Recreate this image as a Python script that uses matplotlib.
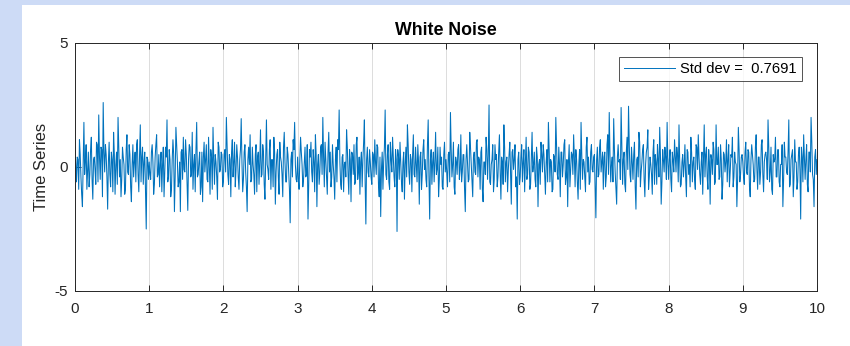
import numpy as np
import matplotlib
matplotlib.use("Agg")
import matplotlib.pyplot as plt
from matplotlib.patches import Rectangle

plt.rcParams['font.family'] = ['Liberation Sans', 'DejaVu Sans']
plt.rcParams['axes.unicode_minus'] = False

# samples, one list per second: segN at t = N + 0.02*i, segNb half a step later
seg0 = [0.8, -0.6, 0.3, 1.1, -0.4, -1.6, 1.8, 0.2, -0.9, 0.6, -0.3, 1.2, -1.3, 0.4, -0.7, 0.9, 2.1,
        -0.5, 0.7, 2.6, -0.2, 0.5, -1.7, 1.0, -0.8, 0.3, 1.4, -1.1, 0.6, 2.0, -0.4, -1.2, 0.8, 0.1,
        -0.9, 1.3, -0.3, 0.5, -1.4, 0.9, 0.2, -0.6, 1.1, -1.0, 1.7, 0.4, -0.7, 0.6, -2.5, 0.3]
seg0b = [0.1, 0.4, -0.9, 0.5, -1.1, 0.2, -0.3, 0.9, -0.2, -0.8, 0.7, -0.5, 0.3, -0.1, 1.0, -0.6, 0.4,
         0.8, -1.2, 0.6, 0.9, -0.4, 0.2, -0.3, 0.6, -1.0, 0.5, 0.1, -0.7, 0.8, 0.3, -0.5, 0.4, -1.1,
         0.7, -0.2, 0.9, -0.8, 0.1, -0.4, 0.6, 0.9, -0.3, 0.5, -0.6, 0.8, 0.2, -1.0, 0.4, -0.5]
seg1 = [0.2, -0.5, 0.9, -1.1, 0.4, 1.3, -0.3, -0.8, 0.6, 0.1, -1.2, 0.8, 1.9, -0.4, 0.3, -0.9, 1.1,
        -1.8, 1.6, 0.2, -0.6, -1.8, 0.7, 1.2, -0.2, 0.5, -1.75, 0.9, -0.4, 1.4, 0.1, -1.0, 1.8, -0.3,
        0.6, -0.8, -1.4, 1.0, 0.3, -0.5, 1.2, -1.1, 0.4, 1.6, -0.7, 0.2, -1.3, 0.8, -0.1, 0.5]
seg1b = [-0.3, 0.6, 0.2, -0.7, 0.9, -0.4, 0.5, 0.1, -1.0, 0.8, -0.2, 0.4, -0.6, 0.7, -1.2, 0.3, 0.5,
         -0.4, 0.9, -0.8, 0.2, 0.6, -0.5, -0.1, 1.1, -0.7, 0.3, 0.8, -0.3, -0.9, 0.5, 0.7, -0.4, 0.2,
         -1.1, 0.6, 0.4, -0.2, 0.9, -0.6, 0.1, 0.7, -0.9, 0.3, 0.5, -0.4, 1.0, -0.2, 0.6, -0.8]
seg2 = [-0.6, 0.7, 2.0, -0.3, 0.5, -1.2, 1.1, 0.2, -0.8, 0.9, -0.4, 0.3, 1.95, -1.0, 0.6, -0.2, -1.8,
        0.8, 1.3, -0.5, 0.1, -1.1, 0.9, 0.4, -0.7, 1.5, -0.3, 0.6, -1.3, 1.9, -0.1, 0.7, -0.9, 0.3,
        1.2, -1.5, 0.5, -0.4, 1.0, 0.2, -1.2, 1.4, -0.6, 0.8, -0.2, -2.25, 0.6, 1.1, 1.8, -0.5]
seg2b = [0.5, -0.2, 0.8, -0.7, 0.3, 0.6, -0.4, 1.0, -0.1, 0.4, -0.9, 0.7, 0.2, -0.5, 0.9, -0.8, 0.3,
         0.1, -0.6, 0.8, -0.3, 0.5, -1.0, 0.6, 0.2, -0.4, 0.9, -0.7, 0.4, 0.1, -0.5, 1.1, 0.3, -0.8,
         0.6, -0.2, 0.7, -1.1, 0.4, -0.3, 0.8, 0.2, -0.6, 0.5, -0.9, 0.3, -0.4, 0.7, 0.1, -0.6]
seg3 = [0.4, -0.9, 1.2, 0.1, -0.5, 0.8, -0.3, -2.1, 0.7, 1.0, -0.6, 0.2, 1.3, -1.6, 0.5, -0.2, 0.9,
        2.0, -0.8, 0.3, -1.1, 1.4, 0.6, -0.4, 0.1, -1.3, 0.8, 1.1, 2.3, -0.7, 0.4, -1.0, 0.2, 1.5,
        -0.3, 0.7, -1.4, 0.5, 0.9, -0.6, 1.2, -0.2, -1.1, 0.6, 0.3, 1.9, -2.3, 0.8, -0.4, 0.2]
seg3b = [-0.5, 0.3, 0.6, -0.8, 0.2, -0.4, 0.9, -0.6, 0.4, -0.2, 0.7, -1.0, 0.5, 0.1, -0.7, 0.8, -0.3,
         0.4, 1.0, -0.5, 0.6, -0.2, -0.8, 0.9, -0.4, 0.3, -0.6, 0.7, 0.2, -0.9, 0.5, 0.1, -0.4, 0.8,
         -1.1, 0.3, 0.6, -0.3, -0.7, 0.9, -0.5, 0.4, 0.2, -0.8, 1.0, -0.6, 0.3, -0.2, 0.7, -0.4]
seg4 = [-0.7, 0.5, 1.1, -0.3, 0.8, -1.2, -2.0, 0.6, 0.2, 2.3, -0.5, 0.9, -0.9, 0.3, 1.2, -0.4, 0.7,
        -2.6, 0.4, 1.0, -0.6, 0.2, -1.3, 0.8, 1.7, -0.2, 0.5, -1.0, 1.3, -0.4, 0.1, 0.9, -1.5, 0.6,
        -0.3, 1.1, 0.3, -0.8, 1.9, -2.1, 0.7, 0.2, -0.6, 1.4, -0.1, -1.2, 0.8, 0.4, -0.9, 1.0]
seg4b = [0.6, -0.4, 0.2, 0.9, -0.7, 0.4, -0.1, -0.9, 0.8, -0.3, 0.5, -0.6, 1.0, -0.2, 0.4, -0.8, 0.3,
         0.7, -0.5, 0.2, -1.0, 0.6, 0.1, -0.4, 0.9, -0.7, 0.3, 0.5, -0.3, 0.8, -0.6, 0.2, 0.4, -0.9,
         0.7, -0.1, -0.5, 0.9, -0.4, 0.3, -0.7, 0.6, 0.2, -0.3, 0.8, -0.5, 0.1, -0.8, 0.5, -0.2]
seg5 = [0.3, -0.8, 0.6, 2.2, -0.4, 1.0, -1.1, 0.2, 0.7, -0.5, 1.3, -0.2, 0.5, -1.8, 0.9, -0.6, 1.4,
        0.1, -1.2, 0.6, -0.3, 1.1, 0.4, -0.9, 0.8, -1.4, 0.2, 1.2, -0.5, 2.5, -0.7, 0.3, -1.0, 0.9,
        0.5, -0.4, 1.3, -1.3, 0.2, 1.7, -0.6, 0.4, -0.1, 1.0, -1.5, 0.7, 0.3, -0.8, -2.1, 0.6]
seg5b = [-0.2, 0.5, -0.6, 0.7, 0.1, -0.8, 0.4, -0.3, 0.9, -0.1, -0.6, 0.5, -0.9, 0.3, 0.2, -0.5, 0.8,
         -0.7, 0.4, -0.2, 1.0, -0.4, 0.3, 0.6, -0.9, 0.2, -0.3, 0.7, 0.5, -0.6, 0.1, 0.9, -0.5, 0.3,
         -0.8, 0.6, -0.2, 0.4, -0.7, 0.8, 0.2, -1.0, 0.5, -0.3, 0.6, -0.1, 0.9, -0.4, 0.3, -0.7]
seg6 = [-0.4, 0.9, 0.2, -1.0, 1.2, -0.3, 0.6, -0.7, 1.4, 0.1, -0.5, 0.8, -1.6, 0.3, 1.0, -0.2, 0.5,
        -1.1, 0.7, 1.8, -0.6, 0.2, -0.9, 0.4, 2.0, -0.3, 0.8, -1.2, 0.6, 0.1, 1.1, -0.4, -1.6, 0.9,
        -0.1, 0.5, 1.3, -0.8, 0.3, -1.3, 0.7, 1.8, -0.5, 0.2, -1.0, 1.2, 0.4, -0.6, 0.9, -0.2]
seg6b = [0.4, -0.6, 0.7, 0.2, -0.5, 0.8, -0.9, 0.3, -0.2, 0.6, -0.8, 0.4, 0.1, -0.7, 0.5, 0.9, -0.3,
         0.2, -0.6, 0.7, 0.3, -1.0, 0.5, -0.2, 0.8, -0.5, 0.1, 0.6, -0.4, 0.9, -0.7, 0.3, 0.2, -0.8,
         0.6, -0.3, 0.4, 0.7, -0.6, 0.1, -0.9, 0.5, 0.3, -0.4, 0.8, -0.2, -0.7, 0.6, -0.1, 0.4]
seg7 = [0.5, -2.05, 0.8, -0.3, 1.1, 0.2, -0.9, 0.6, -0.4, 1.3, 2.2, -0.6, 0.4, 1.95, -0.2, -1.5, 0.9,
        0.3, 2.4, -0.7, 0.6, -1.0, 1.2, 2.45, -0.3, 0.8, -0.5, 1.0, -1.7, 0.4, 1.4, -0.8, 0.2, 0.9,
        -1.2, 0.6, 1.5, -0.4, 0.1, -1.1, 1.1, 0.5, -0.7, 0.3, 1.6, -1.5, 0.7, -0.2, 0.4, 1.8]
seg7b = [-0.7, 0.3, -0.4, 0.8, -0.2, 0.6, 0.4, -0.8, 0.9, -0.3, 0.5, 0.1, -0.6, 0.7, -0.9, 0.4, 0.2,
         -0.5, 0.8, 0.3, -0.7, 0.6, -0.1, 0.9, -0.6, 0.2, 0.5, -0.8, 0.3, -0.4, 1.0, -0.2, 0.7, -0.5,
         0.1, 0.8, -0.9, 0.4, -0.3, 0.6, -0.7, 0.2, 0.9, -0.4, 0.5, -0.6, 0.3, 0.8, -0.5, 0.2]
seg8 = [-0.5, 0.7, -1.0, 0.3, 1.1, -0.2, 0.5, 1.7, -0.8, 0.2, -0.4, 0.9, -1.2, 0.6, 0.1, 1.2, -0.6,
        0.4, -0.9, 0.8, 1.3, -0.3, 0.2, -1.1, 1.7, 0.5, -0.4, 0.7, -1.5, 0.3, 1.0, -0.7, 1.7, 0.1,
        -0.5, 0.9, -1.3, 0.6, -0.2, 1.1, 0.3, -0.8, 0.5, 1.2, -0.4, 0.2, -1.6, 1.6, -0.6, 0.4]
seg8b = [0.3, -0.5, 0.6, -0.2, 0.4, 0.8, -0.6, 0.2, -0.7, 0.5, 0.1, -0.4, 0.7, -0.3, -0.8, 0.6, 0.2,
         -0.5, 0.9, -0.1, 0.4, -0.7, 0.6, 0.3, -0.4, 0.8, -0.9, 0.2, 0.5, -0.3, 0.7, -0.6, 0.1, 0.8,
         -0.4, 0.3, -0.7, 0.5, 0.2, -0.6, 0.9, -0.2, 0.4, -0.8, 0.6, 0.1, -0.5, 0.7, -0.3, 0.5]
seg9 = [0.2, -0.7, 1.0, -0.3, 0.6, -1.2, 0.9, 0.1, -0.5, 1.3, -0.9, 0.4, -0.2, 1.1, -1.0, 0.5, 0.3,
        1.9, -0.6, 0.8, -1.1, 0.2, 1.2, -0.4, 0.7, -0.8, 0.1, -1.6, 1.0, 0.4, -0.3, 1.9, -0.7, 0.5,
        -1.2, 1.1, 0.2, -0.6, 0.8, -2.1, 0.4, 1.3, -0.5, 0.9, -1.0, 0.6, 2.0, -0.3, -1.6, 0.7]
seg9b = [-0.4, 0.6, -0.2, 0.7, -0.8, 0.3, 0.5, -0.6, 0.8, -0.1, 0.4, -0.7, 0.9, -0.3, 0.2, 0.6, -0.5,
         0.8, -0.2, -0.9, 0.5, 0.3, -0.4, 0.7, -0.6, 0.1, 0.9, -0.5, 0.4, -0.2, 0.6, -0.8, 0.3, 0.7,
         -0.4, 0.2, -0.9, 0.5, -0.1, 0.8, -0.6, 0.4, 0.3, -0.7, 0.6, -0.2, 1.0, -0.5, 0.4, -0.3]
last_sample = [0.3]

std_dev = 0.7691
x_ticks = [0, 1, 2, 3, 4, 5, 6, 7, 8, 9, 10]
y_ticks = [-5, 0, 5]

on_grid = seg0 + seg1 + seg2 + seg3 + seg4 + seg5 + seg6 + seg7 + seg8 + seg9
half_step = seg0b + seg1b + seg2b + seg3b + seg4b + seg5b + seg6b + seg7b + seg8b + seg9b
signal = np.concatenate([np.column_stack([on_grid, half_step]).ravel(), last_sample])
t = np.linspace(0, 10, len(signal))

fig = plt.figure(figsize=(8.5, 3.46), dpi=100, facecolor='white')

# light blue frame along the left and top edges
fig.patches.append(Rectangle((0, 0), 22 / 850, 1, transform=fig.transFigure,
                             facecolor='#cddbf6', edgecolor='none', zorder=0))
fig.patches.append(Rectangle((0, 1 - 5 / 346), 1, 5 / 346, transform=fig.transFigure,
                             facecolor='#cddbf6', edgecolor='none', zorder=0))

ax = fig.add_axes([75 / 850, 1 - 291 / 346, 742 / 850, 248 / 346])
ax.plot(t, signal, color='#0072BD', linewidth=0.75,
        label='Std dev =  {:.4f}'.format(std_dev))

ax.set_xlim(0, 10)
ax.set_ylim(-5, 5)
ax.set_xticks(x_ticks)
ax.set_yticks(y_ticks)
ax.grid(axis='x', color='#dcdcdc', linewidth=0.7)
ax.set_axisbelow(True)

for s in ax.spines.values():
    s.set_color('#262626')
    s.set_linewidth(0.7)
ax.tick_params(direction='in', length=4, width=0.7, colors='#262626', labelsize=11,
               top=True, right=False)
ax.tick_params(axis='x', pad=8)
ax.tick_params(axis='y', pad=5)

ax.set_title('White Noise', fontsize=12.8, fontweight='bold', color='black', pad=6)
ax.set_ylabel('Time Series', fontsize=12, color='#262626', labelpad=4)

leg = ax.legend(loc='upper right', fontsize=10.6, frameon=True, fancybox=False,
                handlelength=3.5, borderpad=0.35, handletextpad=0.35, borderaxespad=0,
                bbox_to_anchor=(0.98, 0.943))
leg.get_frame().set_edgecolor('#262626')
leg.get_frame().set_linewidth(0.7)
for line in leg.get_lines():
    line.set_linewidth(0.7)

fig.savefig('out.png', dpi=100, facecolor=fig.get_facecolor())
